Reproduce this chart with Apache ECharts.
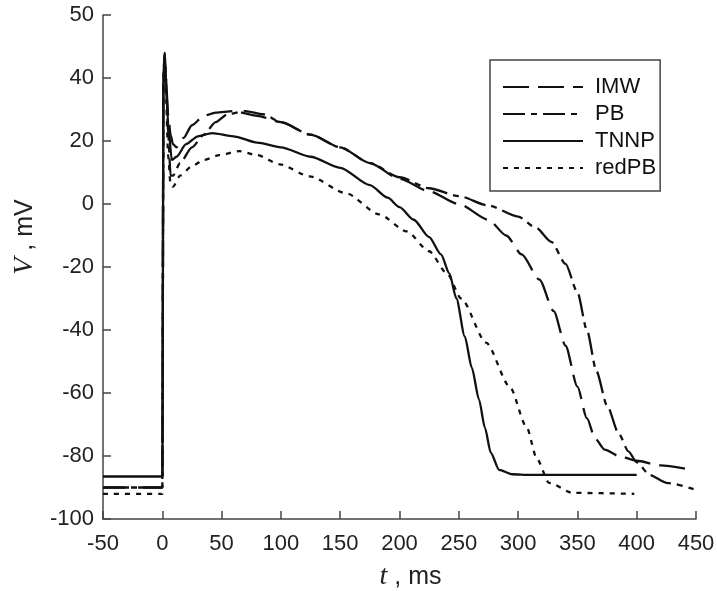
<!DOCTYPE html>
<html>
<head>
<meta charset="utf-8">
<script src="https://cdn.jsdelivr.net/npm/echarts@6/dist/echarts.min.js"></script>
<style>
html,body{margin:0;padding:0;background:#fff;}
#chart{width:717px;height:591px;}
</style>
</head>
<body>
<div id="chart"></div>
<script>
// ---- data (t in ms, V in mV) ----
const seriesNames = ["IMW", "PB", "TNNP", "redPB"];
const xTickValues = [-50, 0, 50, 100, 150, 200, 250, 300, 350, 400, 450];
// y axis of original figure: top tick labelled "50" sits where 60 would be
const yTickLabels = ["-100", "-80", "-60", "-40", "-20", "0", "20", "40", "50"];

const imwData = [
  [-50,-90],[0,-90],[1,40],[2,47],[3,40],[5,28],[7,22],[9,19],[12,18],[18,21],[25,25],
  [35,28],[45,29],[60,29.5],[80,28],[100,26],[125,22],[150,18],[175,13],[200,8],
  [225,4],[250,0],[275,-5],[290,-10],[303,-16],[318,-24],[330,-34],[340,-45],[350,-58],
  [358,-68],[365,-74.5],[373,-78],[385,-80],[400,-81.5],[420,-83],[441,-84]
];
const pbData = [
  [-50,-90],[0,-90],[1,42],[2,48],[3,40],[5,22],[7,9],[9,9],[15,13],[25,18],[35,22],
  [45,26],[55,28.5],[70,29.5],[85,28.5],[100,26],[125,22],[150,18],[175,13],[200,8.5],
  [225,5],[250,2.5],[275,-0.5],[300,-4],[315,-7.5],[328,-12],[340,-19],[350,-28],
  [358,-40],[366,-53],[375,-64],[385,-73],[393,-78.5],[400,-82],[411,-86],[425,-88.5],
  [448,-90.5]
];
const tnnpData = [
  [-50,-86.5],[0,-86.5],[1,40],[2,48],[3,40],[5,25],[8,14],[12,15],[20,19],[30,21.5],
  [42,22.5],[60,21.5],[80,19.5],[100,18],[125,15],[150,11.5],[175,6],[190,2],[200,-1],
  [212,-5],[225,-10.5],[235,-16],[242,-22],[248,-30],[255,-42],[261,-52],[267,-62],
  [272,-71],[277,-79],[284,-84.4],[295,-85.8],[310,-86],[400,-86]
];
const redPbData = [
  [-50,-92],[0,-92],[1,38],[2,45],[3,35],[5,15],[7,6],[9,5.5],[15,9],[25,12],[35,14],
  [48,15.5],[65,16.8],[80,15.5],[99,12.6],[124,8.8],[155,3.4],[183,-3.3],[206,-8.7],
  [225,-15],[240,-22],[252,-30],[273,-44],[293,-58],[307,-70.7],[316,-81],[326,-88.5],
  [346,-91.7],[398,-92]
];

const dashes = {
  IMW: [26, 9],
  PB: [22, 6, 6, 6],
  TNNP: 'solid',
  redPB: [5, 6]
};
const dataMap = {IMW: imwData, PB: pbData, TNNP: tnnpData, redPB: redPbData};

const FONT = "'Liberation Sans', Arial, sans-serif";
const chart = echarts.init(document.getElementById('chart'), null, {renderer: 'canvas'});

const axisLine = {show: true, onZero: false, lineStyle: {color: '#444', width: 1.5}};

chart.setOption({
  animation: false,
  backgroundColor: '#fff',
  grid: {left: 103, right: 21, top: 15, bottom: 72, containLabel: false, outerBoundsMode: 'none'},
  legend: {
    orient: 'vertical',
    left: 490, top: 60,
    data: seriesNames,
    itemWidth: 80, itemHeight: 14, itemGap: 5,
    padding: [16, 4, 12, 12],
    borderColor: '#444', borderWidth: 1.5,
    itemStyle: {opacity: 0},
    textStyle: {fontFamily: FONT, fontSize: 22, color: '#111', lineHeight: 22, padding: [0, 0, 0, 7]},
    inactiveColor: '#111'
  },
  xAxis: {
    type: 'value', min: -50, max: 450, interval: 50,
    axisLine: axisLine,
    axisTick: {show: true, inside: true, length: 8, lineStyle: {color: '#444', width: 1.5}},
    splitLine: {show: false},
    axisLabel: {
      fontFamily: FONT, fontSize: 22, color: '#222', margin: 14,
      customValues: xTickValues,
      formatter: v => String(v)
    },
    name: '{i|t}{n| , ms}',
    nameLocation: 'middle', nameGap: 44,
    nameTextStyle: {
      padding: [0, 0, 0, 22],
      rich: {
        i: {fontFamily: "'Liberation Serif', serif", fontStyle: 'italic', fontSize: 28, color: '#222'},
        n: {fontFamily: FONT, fontSize: 25, color: '#222'}
      }
    }
  },
  yAxis: {
    type: 'value', min: -100, max: 60, interval: 20,
    axisLine: axisLine,
    axisTick: {show: true, inside: true, length: 8, lineStyle: {color: '#444', width: 1.5}},
    splitLine: {show: false},
    axisLabel: {
      fontFamily: FONT, fontSize: 22, color: '#222', margin: 9,
      formatter: v => yTickLabels[Math.round((v + 100) / 20)]
    },
    name: '{i|V}{n| , mV}',
    nameLocation: 'middle', nameGap: 64, nameRotate: 90,
    nameTextStyle: {
      padding: [0, 0, 0, 60],
      rich: {
        i: {fontFamily: "'Liberation Serif', serif", fontStyle: 'italic', fontSize: 28, color: '#222'},
        n: {fontFamily: FONT, fontSize: 25, color: '#222'}
      }
    }
  },
  series: seriesNames.map(name => ({
    name: name,
    type: 'line',
    data: dataMap[name],
    showSymbol: false,
    symbol: 'none',
    smooth: 0.25,
    smoothMonotone: 'x',
    color: '#111',
    lineStyle: {color: '#111', width: 2.3, type: dashes[name]}
  }))
});
</script>
</body>
</html>
